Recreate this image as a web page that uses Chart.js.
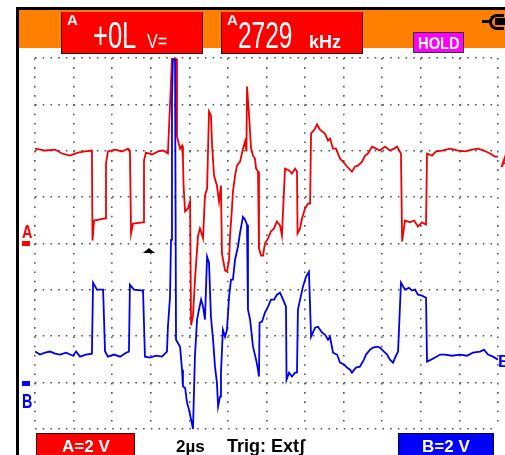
<!DOCTYPE html>
<html>
<head>
<meta charset="utf-8">
<script src="https://cdn.jsdelivr.net/npm/chart.js@4"></script>
<style>
  html, body { margin: 0; padding: 0; background: #fff; overflow: hidden; }
  #wrap { position: relative; width: 505px; height: 455px; overflow: hidden; background: #fff; }
  #c { position: absolute; left: 0; top: 0; z-index: 1; }
  .abs { position: absolute; z-index: 2; white-space: nowrap; }
  .lbl { font-family: "Liberation Sans", Arial, sans-serif; line-height: 1; }
  .sx { transform-origin: 0 0; }
</style>
</head>
<body>
<div id="wrap">
  <!-- frame -->
  <div class="abs" style="left:16px;top:7px;width:489px;height:3px;background:#000;"></div>
  <div class="abs" style="left:16px;top:7px;width:3px;height:448px;background:#000;"></div>
  <div class="abs" style="left:19px;top:10px;width:486px;height:38px;background:#ff8000;z-index:1;"></div>

  <!-- header box 1 -->
  <div class="abs" style="left:61px;top:12px;width:140px;height:40px;background:#ff0000;border:1px solid #3a0000;border-top-color:#ff0000;"></div>
  <div class="abs lbl" style="left:67px;top:12px;font-size:15px;font-weight:bold;color:#fff;">A</div>
  <div class="abs lbl sx" style="left:93px;top:17px;font-size:37px;color:#fff;transform:scaleX(0.69);">+0L</div>
  <div class="abs lbl sx" style="left:147px;top:31px;font-size:20px;color:#fff;transform:scaleX(0.8);">V=</div>

  <!-- header box 2 -->
  <div class="abs" style="left:221px;top:12px;width:140px;height:40px;background:#ff0000;border:1px solid #3a0000;border-top-color:#ff0000;"></div>
  <div class="abs lbl" style="left:227px;top:12px;font-size:15px;font-weight:bold;color:#fff;">A</div>
  <div class="abs lbl sx" style="left:238px;top:17px;font-size:37px;color:#fff;transform:scaleX(0.66);">2729</div>
  <div class="abs lbl" style="left:309px;top:33px;font-size:18px;color:#fff;font-weight:bold;">kHz</div>

  <!-- HOLD -->
  <div class="abs" style="left:413px;top:32px;width:49px;height:19px;background:#ff00ff;border:1px solid #333;"></div>
  <div class="abs lbl sx" style="left:418px;top:36px;font-size:16px;font-weight:bold;color:#fff;transform:scaleX(0.92);">HOLD</div>

  <!-- plug icon -->
  <div class="abs" style="left:482px;top:20px;width:9px;height:3px;background:#000;"></div>
  <div class="abs" style="left:489px;top:14px;width:12px;height:10px;border:3px solid #000;border-right:none;border-radius:8px 0 0 8px;"></div>
  <div class="abs" style="left:495px;top:18px;width:10px;height:7px;background:#000;"></div>

  <!-- left markers -->
  <div class="abs lbl sx" style="left:22px;top:223px;font-size:18px;font-weight:bold;color:#ff0000;transform:scaleX(0.8);">A</div>
  <div class="abs" style="left:22px;top:241px;width:8px;height:5px;background:#ff0000;"></div>
  <div class="abs" style="left:22px;top:381px;width:8px;height:5px;background:#0000ff;"></div>
  <div class="abs lbl sx" style="left:22px;top:391px;font-size:20px;font-weight:bold;color:#0000ff;transform:scaleX(0.72);">B</div>

  <!-- right markers -->
  <div class="abs lbl" style="left:500px;top:153px;font-size:17px;font-weight:bold;color:#ff0000;">A</div>
  <div class="abs lbl" style="left:498px;top:353px;font-size:17px;font-weight:bold;color:#0000ff;">B</div>

  <!-- trigger marker -->
  <div class="abs" style="left:143px;top:248px;width:0;height:0;border-left:6px solid transparent;border-right:6px solid transparent;border-bottom:5px solid #000;"></div>

  <!-- footer -->
  <div class="abs" style="left:36px;top:433px;width:97px;height:24px;background:#ff0000;border:1px solid #3a0000;border-bottom:none;"></div>
  <div class="abs lbl" style="left:62px;top:438px;font-size:17px;font-weight:bold;color:#fff;">A=2 V</div>
  <div class="abs lbl" style="left:176px;top:438px;font-size:17px;font-weight:bold;color:#000;">2µs</div>
  <div class="abs lbl" style="left:227px;top:437px;font-size:18px;font-weight:bold;color:#000;">Trig: Extʃ</div>
  <div class="abs" style="left:398px;top:433px;width:94px;height:24px;background:#0000ff;border:1px solid #00003a;border-bottom:none;"></div>
  <div class="abs lbl" style="left:422px;top:438px;font-size:17px;font-weight:bold;color:#fff;">B=2 V</div>

  <canvas id="c" width="505" height="455"></canvas>
</div>
<script>
// Time base: 2 µs/div, 12 divisions. Channel A: 2 V/div, Channel B: 2 V/div.
const timeTicks = [0, 2, 4, 6, 8, 10, 12, 14, 16, 18, 20, 22, 24];

const timeA = [0,0.52,1.04,1.40,1.81,2.23,2.59,2.95,2.98,3.06,3.63,3.68,3.78,4.15,4.51,4.82,4.92,4.98,5.08,5.60,5.65,5.75,6.07,6.38,6.64,6.89,6.95,7.10,7.31,7.36,7.52,7.62,7.67,7.70,7.78,7.93,8.04,8.09,8.19,8.29,8.45,8.55,8.71,8.81,8.92,9.02,9.12,9.18,9.28,9.43,9.54,9.64,9.69,9.85,9.95,10.06,10.11,10.21,10.26,10.37,10.47,10.63,10.78,10.89,10.96,10.99,11.09,11.20,11.30,11.40,11.46,11.56,11.61,11.72,11.82,11.92,12.08,12.23,12.39,12.54,12.70,12.80,12.96,13.17,13.32,13.48,13.58,13.61,13.74,13.84,14.00,14.15,14.26,14.31,14.52,14.62,14.77,15.03,15.19,15.29,15.45,15.60,15.81,15.97,16.17,16.43,16.59,16.74,16.95,17.11,17.26,17.47,17.68,17.88,18.14,18.40,18.61,18.76,18.97,19.03,19.18,19.44,19.65,19.85,20.06,20.27,20.32,20.58,20.79,21.10,21.51,21.93,22.29,22.65,22.96,23.27,23.59,23.84,24.00];
const voltsA = [4.09,4.01,4.05,3.88,3.79,3.92,3.97,4.01,0.13,0.99,1.08,3.45,3.97,4.05,3.97,4.09,4.01,0.43,0.86,0.91,3.58,3.92,3.84,3.97,4.01,3.88,5.04,7.97,7.97,4.61,4.09,4.22,3.66,2.50,1.38,1.51,1.81,-3.53,-3.10,-1.59,0.34,0.65,0.22,2.07,2.37,5.69,5.52,4.22,2.93,2.50,1.81,2.50,-0.43,-1.16,-1.21,-0.73,0.34,1.51,2.24,2.93,3.36,3.53,4.09,4.40,3.97,6.77,5.60,4.09,3.79,3.66,3.23,3.10,-0.22,-0.52,-0.52,0.00,0.22,0.52,0.65,0.95,0.78,0.34,3.23,3.15,3.02,3.23,3.10,0.43,0.65,1.08,1.51,1.72,1.72,4.74,4.96,5.13,4.91,4.74,4.44,4.53,4.09,4.09,3.66,3.53,3.32,3.10,3.32,3.36,3.53,3.79,3.88,4.18,4.09,4.01,4.18,4.01,4.09,4.18,3.88,0.09,0.99,0.91,0.99,0.73,0.91,0.82,3.88,3.79,3.97,4.01,4.09,4.01,3.97,4.05,4.09,4.01,3.88,3.75,3.75];

const timeB = [0,0.26,0.52,0.78,1.04,1.30,1.61,1.97,2.13,2.33,2.64,2.95,3.01,3.21,3.53,3.63,3.78,4.10,4.41,4.72,4.87,4.92,5.13,5.60,5.70,5.96,6.27,6.58,6.84,6.89,7.00,7.05,7.10,7.15,7.26,7.31,7.52,7.62,7.67,7.78,7.88,7.98,8.09,8.19,8.29,8.40,8.50,8.61,8.71,8.81,8.92,9.02,9.12,9.23,9.33,9.43,9.49,9.59,9.64,9.74,9.85,9.95,10.06,10.16,10.26,10.37,10.52,10.63,10.78,10.89,10.99,11.04,11.15,11.30,11.46,11.56,11.61,11.64,11.77,11.92,12.08,12.23,12.39,12.54,12.70,12.86,13.01,13.04,13.17,13.32,13.48,13.58,13.63,13.74,13.89,14.05,14.20,14.31,14.52,14.67,14.88,15.03,15.19,15.29,15.45,15.66,15.81,16.02,16.17,16.33,16.43,16.64,16.84,17.05,17.16,17.37,17.52,17.73,17.88,18.09,18.25,18.40,18.56,18.71,18.82,18.97,19.18,19.39,19.54,19.70,19.85,20.06,20.27,20.32,20.53,20.74,21.00,21.25,21.62,22.03,22.39,22.70,23.07,23.27,23.48,23.74,24.00];
const voltsB = [1.34,1.21,1.29,1.34,1.25,1.21,1.29,1.16,1.34,1.12,1.21,1.25,4.31,4.01,4.01,1.34,1.12,1.21,1.12,1.29,1.34,4.22,4.01,3.97,1.12,1.08,1.16,1.12,1.34,2.41,3.71,6.16,12.28,13.92,13.92,1.85,1.55,0.56,-0.17,-0.22,-0.86,-1.16,-1.59,-2.00,1.12,2.72,3.15,3.58,3.28,2.72,5.43,5.17,2.84,1.85,0.69,0.00,-1.03,-0.60,0.43,2.28,1.98,2.28,3.71,4.44,4.44,5.30,5.86,6.47,7.15,7.03,6.81,3.15,2.72,1.55,0.99,0.56,0.26,2.59,2.63,3.02,3.28,3.58,3.58,3.79,3.88,3.58,3.28,0.13,0.43,0.26,0.43,0.43,3.15,3.58,4.14,4.57,4.78,1.98,2.37,2.41,2.16,2.07,1.85,1.98,1.29,1.21,0.86,0.78,0.65,0.56,0.43,0.65,0.69,0.99,1.21,1.42,1.51,1.55,1.51,1.34,1.21,0.99,0.86,1.16,1.34,4.31,4.01,4.09,3.97,4.01,3.79,3.75,3.66,0.91,0.99,1.08,1.21,1.21,1.16,1.21,1.16,1.29,1.34,1.42,1.21,1.12,0.99];

const pointsA = timeA.map((t, i) => ({ x: t, y: voltsA[i] }));
const pointsB = timeB.map((t, i) => ({ x: t, y: voltsB[i] }));

new Chart(document.getElementById('c'), {
  type: 'line',
  data: {
    datasets: [
      { label: 'B', data: pointsB, yAxisID: 'yB', borderColor: '#0000f0', borderWidth: 1.8, pointRadius: 0, tension: 0, fill: false },
      { label: 'A', data: pointsA, yAxisID: 'yA', borderColor: '#f00000', borderWidth: 1.8, pointRadius: 0, tension: 0, fill: false }
    ]
  },
  options: {
    responsive: false,
    animation: false,
    events: [],
    layout: { padding: { left: 35, right: 7, top: 58, bottom: 26 } },
    plugins: { legend: { display: false }, tooltip: { enabled: false } },
    scales: {
      x: {
        type: 'linear', min: 0, max: 24,
        afterBuildTicks: s => { s.ticks = timeTicks.map(v => ({ value: v })); },
        afterFit: s => { s.height = 0; },
        ticks: { display: false },
        grid: { drawTicks: false, color: '#555', lineWidth: 1.6 },
        border: { display: false, dash: [1.6, 7.68] }
      },
      yA: {
        position: 'left', min: -8, max: 8,
        ticks: { display: false, stepSize: 2 },
        afterFit: s => { s.width = 0; },
        grid: { drawTicks: false, color: '#555', lineWidth: 1.6 },
        border: { display: false, dash: [1.6, 6.12] }
      },
      yB: {
        position: 'right', min: -2, max: 14, display: false,
        afterFit: s => { s.width = 0; }
      }
    }
  }
});
</script>
</body>
</html>
